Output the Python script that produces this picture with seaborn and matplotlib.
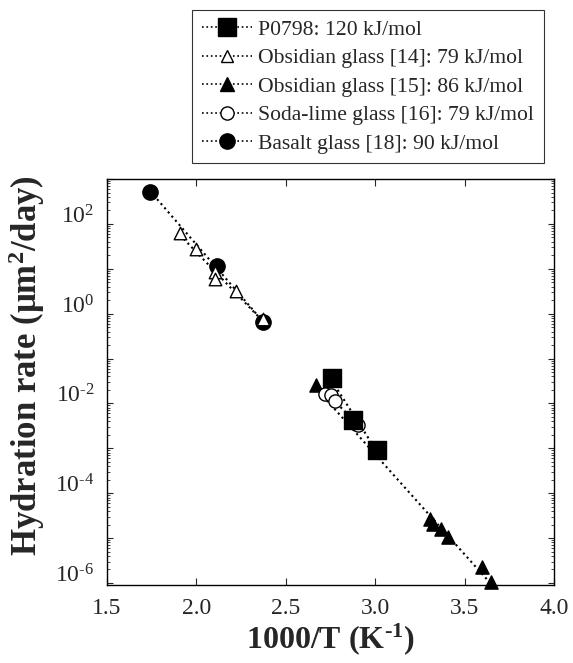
import numpy as np
import matplotlib
matplotlib.use('Agg')
import matplotlib.pyplot as plt
import matplotlib.transforms as mtransforms
from matplotlib.lines import Line2D
from matplotlib.ticker import LogLocator, NullFormatter, FuncFormatter, FormatStrFormatter
import seaborn as sns

# hydration rate vs 1000/T
p0798_x = [2.757, 2.878, 3.012]
p0798_y = [3.73e-2, 4.34e-3, 9.4e-4]

obs14_x = [1.908, 1.998, 2.104, 2.104, 2.221, 2.371]
obs14_y = [64.0, 27.4, 8.3, 5.9, 3.13, 0.76]

obs15_x = [2.669, 3.306, 3.321, 3.366, 3.409, 3.596, 3.646]
obs15_y = [2.64e-2, 2.6e-5, 2.05e-5, 1.56e-5, 1.07e-5, 2.3e-6, 1.07e-6]

soda_x = [2.719, 2.751, 2.775, 2.906]
soda_y = [1.64e-2, 1.58e-2, 1.12e-2, 3.24e-3]

basalt_x = [1.740, 2.113, 2.371]
basalt_y = [522.0, 11.7, 0.64]

labels = ['P0798: 120 kJ/mol',
          'Obsidian glass [14]: 79 kJ/mol',
          'Obsidian glass [15]: 86 kJ/mol',
          'Soda-lime glass [16]: 79 kJ/mol',
          'Basalt glass [18]: 90 kJ/mol']

sns.set_style('ticks')
plt.rcParams.update({
    'font.family': ['Liberation Serif', 'DejaVu Serif'],
    'mathtext.fontset': 'custom',
    'mathtext.rm': 'Liberation Serif',
    'mathtext.it': 'Liberation Serif:italic',
    'mathtext.bf': 'Liberation Serif:bold',
    'xtick.direction': 'in',
    'ytick.direction': 'in',
    'xtick.top': True,
    'ytick.right': True,
    'axes.edgecolor': 'black',
    'axes.linewidth': 1.0,
})

fig = plt.figure(figsize=(5.73, 6.63), dpi=100)
ax = fig.add_axes([0.1867, 0.1176, 0.780, 0.6124])

# (x, y, marker, size, face, label) - drawn in this order
series = [
    (basalt_x, basalt_y, 'o', 11.0, 'black', labels[4]),
    (obs14_x, obs14_y, '^', 9.0, 'white', labels[1]),
    (obs15_x, obs15_y, '^', 9.5, 'black', labels[2]),
    (soda_x, soda_y, 'o', 9.5, 'white', labels[3]),
    (p0798_x, p0798_y, 's', 13.0, 'black', labels[0]),
]

handles = {}
for x, y, mk, ms, fc, lab in series:
    x = np.array(x)
    y = np.array(y)
    # dotted Arrhenius fit in log space
    coef = np.polyfit(x, np.log10(y), 1)
    xs = np.array([x.min(), x.max()])
    ys = 10 ** np.polyval(coef, xs)
    sns.lineplot(x=xs, y=ys, ax=ax, color='black', linestyle=':', linewidth=1.5)
    sns.scatterplot(x=x, y=y, ax=ax, marker=mk, s=ms ** 2, color=fc,
                    edgecolor='black', linewidth=1.0, zorder=3, clip_on=False)
    handles[lab] = Line2D([], [], color='black', linestyle=':', linewidth=1.2,
                          marker=mk, markersize=ms, markerfacecolor=fc,
                          markeredgecolor='black', markeredgewidth=1.0)

ax.set_yscale('log')
ax.set_xlim(1.5, 4.0)
ax.set_ylim(9e-7, 1e3)

ax.set_xticks(np.arange(1.5, 4.01, 0.5))
ax.xaxis.set_major_formatter(FormatStrFormatter('%.1f'))
ax.yaxis.set_major_locator(LogLocator(base=10, numticks=20))
ax.yaxis.set_minor_locator(LogLocator(base=10, subs=np.arange(2, 10), numticks=20))
ax.yaxis.set_minor_formatter(NullFormatter())


def even_decades(v, pos):
    e = int(round(np.log10(v)))
    if e % 2:
        return ''
    sign = r'\text{-}' if e < 0 else ''
    return r'$\mathdefault{10^{%s%d}}$' % (sign, abs(e))


ax.yaxis.set_major_formatter(FuncFormatter(even_decades))

ax.tick_params(axis='x', which='major', length=5, width=0.8, labelsize=17, pad=9)
ax.tick_params(axis='y', which='major', length=4, width=0.8, labelsize=17, pad=9)
ax.tick_params(axis='y', which='minor', length=2, width=0.6)

# labels sit slightly above their ticks in the original
offset = mtransforms.ScaledTranslation(0, 7 / 72, fig.dpi_scale_trans)
for t in ax.get_yticklabels():
    t.set_transform(t.get_transform() + offset)

ax.set_xlabel(r'1000/T (K$^{\text{-}\mathbf{1}}$)', fontsize=23, fontweight='bold', labelpad=2)
ax.set_ylabel(r'Hydration rate (μm$^{\mathbf{2}}$/day)', fontsize=25,
              fontweight='bold')
ax.yaxis.set_label_coords(-0.134, 0.54)

leg = fig.legend([handles[l] for l in labels], labels, loc='upper left',
                 bbox_to_anchor=(192 / 573, 1 - 10 / 663), fontsize=15.6,
                 frameon=True, fancybox=False, edgecolor='black',
                 handlelength=2.3, handletextpad=0.3, labelspacing=0.38,
                 borderpad=0.45, borderaxespad=0)
leg.get_frame().set_linewidth(0.8)

fig.savefig('out.png', dpi=100)
